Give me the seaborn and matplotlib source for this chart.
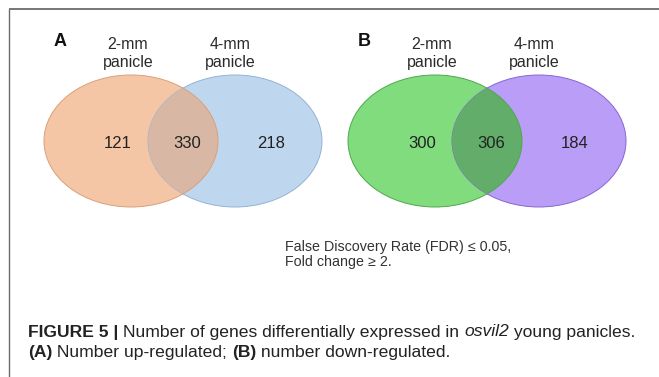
import matplotlib
matplotlib.use("Agg")
import matplotlib.pyplot as plt
from matplotlib.patches import Ellipse
import seaborn as sns

sns.set_theme(style="white")
plt.rcParams['font.family'] = ['Liberation Sans', 'DejaVu Sans']

# ---- data ----
panels = ["A", "B"]
set_labels = ["2-mm\npanicle", "4-mm\npanicle"]
only_2mm = [121, 300]
shared = [330, 306]
only_4mm = [218, 184]
fill_left = ["#f5c6a6", "#80dc7d"]
fill_right = ["#bfd7ee", "#b99df6"]
fill_mid = ["#d8b8a4", "#61ad69"]
edge_left = ["#d9a07c", "#4fa84d"]
edge_right = ["#93b3d3", "#8766d4"]
footnote = "False Discovery Rate (FDR) \u2264 0.05,\nFold change \u2265 2."
caption1 = [("FIGURE 5 | ", "bold", "normal"),
            ("Number of genes differentially expressed in ", "normal", "normal"),
            ("osvil2", "normal", "italic"),
            (" young panicles.", "normal", "normal")]
caption2 = [("(A)", "bold", "normal"), (" Number up-regulated; ", "normal", "normal"),
            ("(B)", "bold", "normal"), (" number down-regulated.", "normal", "normal")]

W, H = 659, 377
fig = plt.figure(figsize=(W / 100, H / 100), dpi=100)
ax = fig.add_axes([0, 0, 1, 1])
ax.set_xlim(0, W)
ax.set_ylim(H, 0)
ax.axis("off")

# frame lines
ax.plot([8.5, W], [8.5, 8.5], color="#6b6b6b", lw=1.3, solid_capstyle="butt")
ax.plot([8.5, 8.5], [8.5, H], color="#6b6b6b", lw=1.0, solid_capstyle="butt")

offsets = [0, 304]
for i, p in enumerate(panels):
    ox = offsets[i]
    cl, cr, cy = 131 + ox, 235 + ox, 141
    w, h = 174, 132
    e1 = Ellipse((cl, cy), w, h, facecolor=fill_left[i], edgecolor=edge_left[i], lw=0.7, zorder=1)
    e2 = Ellipse((cr, cy), w, h, facecolor=fill_right[i], edgecolor=edge_right[i], lw=0.7, zorder=2)
    ax.add_patch(e1)
    ax.add_patch(e2)
    e3 = Ellipse((cl, cy), w, h, facecolor=fill_mid[i], edgecolor=edge_left[i], lw=0.7, zorder=3)
    ax.add_patch(e3)
    e3.set_clip_path(e2)
    ax.text(60 + ox, 42, p, fontsize=13, fontweight="bold", ha="center", va="center", color="#111111")
    ax.text(128 + ox, 53.5, set_labels[0], fontsize=11.5, ha="center", va="center",
            color="#2a2a2a", linespacing=1.2)
    ax.text(230 + ox, 53.5, set_labels[1], fontsize=11.5, ha="center", va="center",
            color="#2a2a2a", linespacing=1.2)
    ax.text(cl - 13, 143, str(only_2mm[i]), fontsize=12, ha="center", va="center", color="#222222", zorder=5)
    ax.text((cl + cr) / 2 + 4, 143, str(shared[i]), fontsize=12, ha="center", va="center", color="#222222", zorder=5)
    ax.text(cr + 36, 143, str(only_4mm[i]), fontsize=12, ha="center", va="center", color="#222222", zorder=5)

ax.text(285, 254.5, footnote, fontsize=10.3, ha="left", va="center", color="#333333", linespacing=1.15)

inv = ax.transData.inverted()


def run_line(parts, y, size):
    x = 28
    for s, wgt, sty in parts:
        tt = ax.text(x, y, s, fontsize=size, fontweight=wgt, style=sty, ha="left", va="center",
                     color="#222222")
        fig.canvas.draw()
        bbx = tt.get_window_extent(fig.canvas.get_renderer())
        x = inv.transform((bbx.x1, 0))[0]


run_line(caption1, 332, 12.6)
run_line(caption2, 352, 12.6)

fig.savefig("out.png", dpi=100)
